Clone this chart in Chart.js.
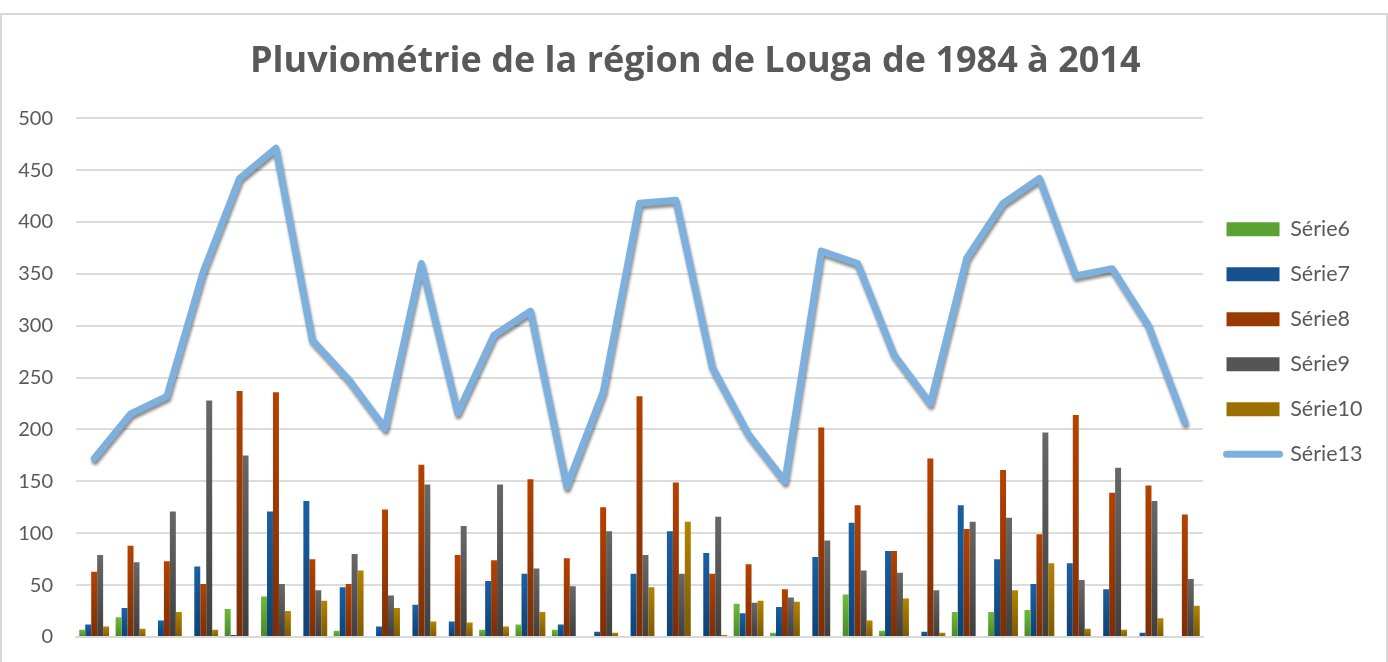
<!DOCTYPE html>
<html>
<head>
<meta charset="utf-8">
<script src="https://cdn.jsdelivr.net/npm/chart.js@4/dist/chart.umd.min.js"></script>
<style>
body { margin: 0; background: #fff; }
#frame { position: absolute; left: 0; top: 13px; width: 1384px; height: 700px; border: 2px solid #d9d9d9; }
#wrap { position: absolute; left: 0; top: 0; width: 1388px; height: 662px; }
</style>
</head>
<body>
<div id="frame"></div>
<div id="wrap"><canvas id="myChart"></canvas></div>
<script>
let years = ['1984', '1985', '1986', '1987', '1988', '1989', '1990', '1991', '1992', '1993', '1994',
  '1995', '1996', '1997', '1998', '1999', '2000', '2001', '2002', '2003', '2004', '2005', '2006',
  '2007', '2008', '2009', '2010', '2011', '2012', '2013', '2014'];

let serie6 = [7, 19, 0, 0, 27, 39, 0, 6, 0, 0, 1, 7, 12, 7, 0, 0, 0, 0, 32, 4, 0, 41, 6, 0, 24, 24, 26, 0, 0, 0, 0];
let serie7 = [12, 28, 16, 68, 2, 121, 131, 48, 10, 31, 15, 54, 61, 12, 5, 61, 102, 81, 23, 29, 77, 110, 83, 5, 127, 75, 51, 71, 46, 4, 1];
let serie8 = [63, 88, 73, 51, 237, 236, 75, 51, 123, 166, 79, 74, 152, 76, 125, 232, 149, 61, 70, 46, 202, 127, 83, 172, 104, 161, 99, 214, 139, 146, 118];
let serie9 = [79, 72, 121, 228, 175, 51, 45, 80, 40, 147, 107, 147, 66, 49, 102, 79, 61, 116, 33, 38, 93, 64, 62, 45, 111, 115, 197, 55, 163, 131, 56];
let serie10 = [10, 8, 24, 7, 0, 25, 35, 64, 28, 15, 14, 10, 24, 0, 4, 48, 111, 2, 35, 34, 0, 16, 37, 4, 0, 45, 71, 8, 7, 18, 30];
let serie13 = [172, 215, 232, 352, 442, 471, 286, 248, 201, 360, 216, 291, 314, 145, 236, 418, 421, 260, 195, 150, 372, 360, 272, 225, 365, 418, 442, 348, 355, 300, 207];

let yTicks = [0, 50, 100, 150, 200, 250, 300, 350, 400, 450, 500];

let barNames = ['Série6', 'Série7', 'Série8', 'Série9', 'Série10'];
let barData = [serie6, serie7, serie8, serie9, serie10];
let colorsTop = ['#6dbb3c', '#1a60a4', '#b54200', '#686868', '#b58300'];
let colorsBottom = ['#4b8829', '#0e4274', '#7c2e06', '#3f3f3f', '#7d5900'];
let colorsMid = ['#5ca233', '#15528e', '#9a3a03', '#555555', '#9a7000'];
let lineColor = '#7eb0de';

// each bar gets its own top-to-bottom gradient, like the spreadsheet original
function barGradient(i) {
  return function (context) {
    let chart = context.chart;
    if (!chart.chartArea || context.type !== 'data') return colorsMid[i];
    let y = chart.scales.y;
    let top = y.getPixelForValue(context.raw);
    let bottom = y.getPixelForValue(0);
    if (bottom - top < 1) return colorsBottom[i];
    let g = chart.ctx.createLinearGradient(0, top, 0, bottom);
    g.addColorStop(0, colorsTop[i]);
    g.addColorStop(1, colorsBottom[i]);
    return g;
  };
}

const lineShadow = {
  id: 'lineShadow',
  beforeDatasetDraw(chart, args) {
    if (chart.data.datasets[args.index].type !== 'line') return;
    let ctx = chart.ctx;
    ctx.save();
    ctx.shadowColor = 'rgba(0,0,0,0.45)';
    ctx.shadowBlur = 3;
    ctx.shadowOffsetX = 1;
    ctx.shadowOffsetY = 3;
  },
  afterDatasetDraw(chart, args) {
    if (chart.data.datasets[args.index].type !== 'line') return;
    chart.ctx.restore();
  }
};

let datasets = barNames.map((name, i) => ({
  type: 'bar',
  label: name,
  data: barData[i],
  backgroundColor: barGradient(i),
  borderWidth: 0,
  order: 1
}));
datasets.push({
  type: 'line',
  label: 'Série13',
  data: serie13,
  borderColor: lineColor,
  backgroundColor: lineColor,
  borderWidth: 7,
  borderJoinStyle: 'round',
  borderCapStyle: 'round',
  pointRadius: 0,
  tension: 0,
  order: 0
});

let myChart = document.getElementById('myChart').getContext('2d');

let chart = new Chart(myChart, {
  data: { labels: years, datasets: datasets },
  plugins: [lineShadow],
  options: {
    responsive: true,
    maintainAspectRatio: false,
    animation: false,
    layout: { padding: { left: 18, right: 15.5, top: 0, bottom: 25 } },
    datasets: { bar: { barPercentage: 1.0, categoryPercentage: 0.82 } },
    scales: {
      x: {
        grid: { display: false, drawTicks: false },
        ticks: { display: false },
        border: { display: true, color: '#d9d9d9', width: 2 }
      },
      y: {
        min: 0,
        max: 500,
        afterBuildTicks: axis => { axis.ticks = yTicks.map(v => ({ value: v })); },
        afterFit: axis => { axis.width = 58; axis.paddingBottom = 12; axis.paddingTop = 12; },
        grid: { color: '#dcdcdc', lineWidth: 2, drawTicks: false },
        border: { display: false },
        ticks: { padding: 23, color: '#595959', font: { family: 'Lato', size: 20 } }
      }
    },
    plugins: {
      title: {
        display: true,
        text: 'Pluviométrie de la région de Louga de 1984 à 2014',
        color: '#595959',
        font: { family: 'Open Sans', size: 36, weight: 'bold' },
        padding: { top: 40, bottom: 35 }
      },
      legend: {
        position: 'right',
        align: 'start',
        title: { display: true, text: '', font: { size: 10 }, padding: { top: 0, bottom: 183 } },
        labels: {
          color: '#595959',
          font: { family: 'Lato', size: 21.5 },
          padding: 23.5,
          boxWidth: 53,
          boxHeight: 14,
          usePointStyle: true,
          pointStyleWidth: 53,
          sort: (a, b) => a.datasetIndex - b.datasetIndex,
          generateLabels: function (c) {
            let items = Chart.defaults.plugins.legend.labels.generateLabels(c);
            items.forEach(item => {
              if (item.datasetIndex < barNames.length) {
                item.pointStyle = 'rect';
                item.fillStyle = colorsMid[item.datasetIndex];
                item.strokeStyle = colorsMid[item.datasetIndex];
                item.lineWidth = 0;
              } else {
                item.pointStyle = 'line';
                item.strokeStyle = lineColor;
                item.lineWidth = 7;
                item.lineCap = 'round';
              }
            });
            return items;
          }
        }
      },
      tooltip: { enabled: false }
    }
  }
});
</script>
</body>
</html>
